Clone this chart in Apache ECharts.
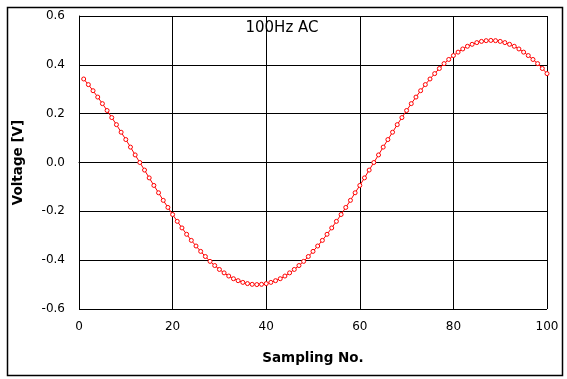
<!DOCTYPE html>
<html>
<head>
<meta charset="utf-8">
<script src="https://cdn.jsdelivr.net/npm/echarts@6/dist/echarts.min.js"></script>
<style>
html,body{margin:0;padding:0;background:#fff;}
#c{width:567px;height:379px;}
</style>
</head>
<body>
<div id="c"></div>
<script>
var titleText = "100Hz AC";
var xAxisName = "Sampling No.";
var yAxisName = "Voltage [V]";
var samples = [];
for (var i = 1; i <= 100; i++) samples.push(i);
var voltage = [
 0.342, 0.319, 0.294, 0.268, 0.241, 0.213, 0.184, 0.155, 0.124, 0.094,
 0.063, 0.031, 0.000,-0.031,-0.063,-0.094,-0.124,-0.155,-0.184,-0.213,
-0.241,-0.268,-0.294,-0.319,-0.342,-0.364,-0.385,-0.405,-0.422,-0.438,
-0.452,-0.465,-0.476,-0.484,-0.491,-0.496,-0.499,-0.500,-0.499,-0.496,
-0.491,-0.484,-0.476,-0.465,-0.452,-0.438,-0.422,-0.405,-0.385,-0.364,
-0.342,-0.319,-0.294,-0.268,-0.241,-0.213,-0.184,-0.155,-0.124,-0.094,
-0.063,-0.031, 0.000, 0.031, 0.063, 0.094, 0.124, 0.155, 0.184, 0.213,
 0.241, 0.268, 0.294, 0.319, 0.342, 0.364, 0.385, 0.405, 0.422, 0.438,
 0.452, 0.465, 0.476, 0.484, 0.491, 0.496, 0.499, 0.500, 0.499, 0.496,
 0.491, 0.484, 0.476, 0.465, 0.452, 0.438, 0.422, 0.405, 0.385, 0.364
];
var points = samples.map(function(s, i){ return [s, voltage[i]]; });

var chart = echarts.init(document.getElementById('c'), null, {renderer:'canvas'});
var font = '"DejaVu Sans", "Noto Sans", sans-serif';
chart.setOption({
  animation: false,
  backgroundColor: '#fff',
  grid: {left: 79, right: 20, top: 16, bottom: 70, containLabel: false},
  xAxis: {
    type: 'value', min: 0, max: 100, interval: 20,
    name: xAxisName, nameLocation: 'middle', nameGap: 42,
    nameTextStyle: {fontFamily: font, fontSize: 13.5, fontWeight: 'bold', color: '#000'},
    axisLine: {show: true, lineStyle: {color: '#000', width: 1}},
    axisTick: {show: false},
    axisLabel: {margin: 12, fontFamily: font, fontSize: 12, color: '#000'},
    splitLine: {show: true, lineStyle: {color: '#000', width: 1}}
  },
  yAxis: {
    type: 'value', min: -0.6, max: 0.6, interval: 0.2,
    name: yAxisName, nameLocation: 'middle', nameGap: 54, nameRotate: 90,
    nameTextStyle: {fontFamily: font, fontSize: 13.5, fontWeight: 'bold', color: '#000'},
    axisLine: {show: true, lineStyle: {color: '#000', width: 1}},
    axisTick: {show: false},
    axisLabel: {margin: 14, fontFamily: font, fontSize: 12, color: '#000',
      formatter: function(v){ return v.toFixed(1); }},
    splitLine: {show: true, lineStyle: {color: '#000', width: 1}}
  },
  graphic: [{
    type: 'rect', left: 5, top: 5, z: 100, silent: true,
    shape: {width: 555, height: 368},
    style: {fill: 'none', stroke: '#000', lineWidth: 1.5}
  }, {
    type: 'text', x: 282, y: 28, z: 100, silent: true,
    style: {text: titleText, fontFamily: font, fontSize: 15, fill: '#000',
      textAlign: 'center', textVerticalAlign: 'middle', align: 'center', verticalAlign: 'middle'}
  }],
  series: [{
    type: 'line', data: points,
    symbol: 'circle', symbolSize: 4, showAllSymbol: true,
    lineStyle: {color: '#ff0000', width: 1},
    itemStyle: {color: '#fff', borderColor: '#ff0000', borderWidth: 1},
    clip: false
  }]
});
</script>
</body>
</html>
